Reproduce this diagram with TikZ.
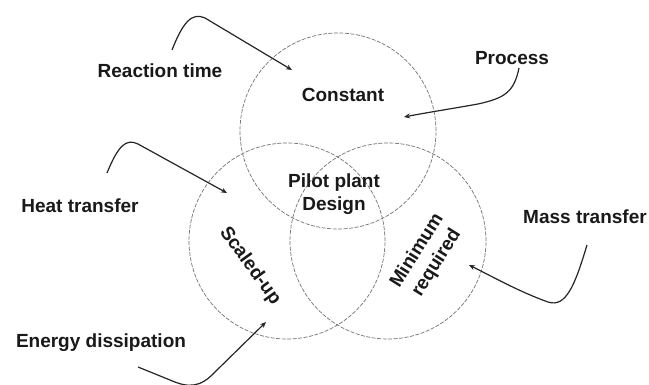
\documentclass[tikz,border=0pt]{standalone}
\usepackage{fontspec}
\setmainfont{Liberation Sans}
\usetikzlibrary{arrows.meta}
\tikzset{
  circ/.style={circle, draw=black!55, line width=0.7pt, dash pattern=on 4pt off 1.5pt, minimum size=196pt, inner sep=0pt},
  lbl/.style={font=\fontsize{19}{23}\selectfont\bfseries, text=black!90, inner sep=0pt, align=center},
  arr/.style={draw=black!85, line width=1.2pt, -{Stealth[length=6pt,width=5pt]}}
}
\begin{document}
\begin{tikzpicture}[x=1pt,y=-1pt]
\useasboundingbox[fill=white] (0,0) rectangle (649,385);
% circles
\node[circ] (ctop) at (338,131) {};
\node[circ] (cleft) at (287,241) {};
\node[circ] (cright) at (388,241) {};
% labels
\node[lbl] (constant) at (343,95) {Constant};
\node[lbl] (pilot) at (334,194) {Pilot plant\\Design};
\node[lbl, rotate=-54] (scaled) at (250,266) {Scaled-up};
\node[lbl, rotate=58] (minimum) at (427,257) {Minimum\\required};
\node[lbl] (reaction) at (160,71) {Reaction time};
\node[lbl] (process) at (512,58) {Process};
\node[lbl] (heat) at (80,206) {Heat transfer};
\node[lbl] (mass) at (585,217) {Mass transfer};
\node[lbl] (energy) at (101,343) {Energy dissipation};
% arrow end points
\coordinate (rtS) at (172,50);
\coordinate (rtE) at (292,70);
\coordinate (htS) at (107,173);
\coordinate (htE) at (227,193);
\coordinate (prS) at (519,68);
\coordinate (prE) at (404,117);
\coordinate (msS) at (587,245);
\coordinate (msE) at (469,265);
\coordinate (enS) at (138,367);
\coordinate (enE) at (266,322);
% arrows
\draw[arr] (rtS) .. controls (183,22) and (192,12) .. (205,18) -- (rtE);
\draw[arr] (htS) .. controls (118,146) and (126,138) .. (138,144) -- (htE);
\draw[arr] (prS) .. controls (514,92) and (505,98) .. (478,104) .. controls (450,109) and (430,112) .. (prE);
\draw[arr] (msS) .. controls (575,285) and (566,308) .. (548,302) .. controls (520,292) and (495,278) .. (msE);
\draw[arr] (enS) -- (170,380) .. controls (188,388) and (200,388) .. (215,372) -- (enE);
\end{tikzpicture}
\end{document}
